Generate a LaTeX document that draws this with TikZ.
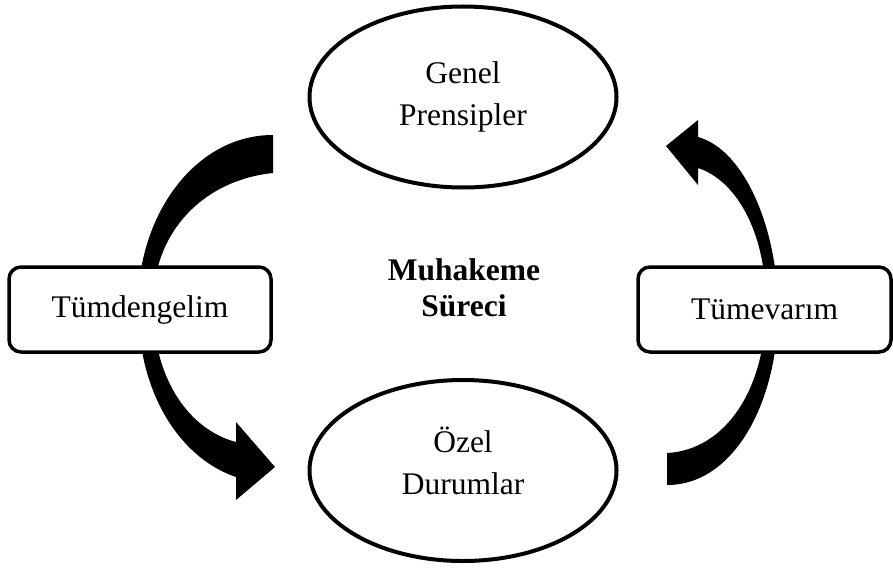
\documentclass[tikz,border=0pt]{standalone}
\usepackage{fontspec}
\setmainfont{Liberation Serif}
\usetikzlibrary{shapes.geometric, positioning}

\begin{document}
\begin{tikzpicture}[
    x=0.5pt, y=-0.5pt,
    stage/.style={draw, ellipse, line width=2pt, inner sep=0pt, minimum width=153.5pt, minimum height=90.5pt, align=center, font=\fontsize{15.75}{21}\selectfont},
    method/.style={draw, fill=white, line width=1.75pt, rounded corners=6pt, minimum height=42.5pt, inner sep=0pt, font=\fontsize{15.75}{19}\selectfont},
    bigarrow/.style={fill=black}
]
    \useasboundingbox (0,0) rectangle (893,567);

    % Curved arrows
    \fill[bigarrow] (273,135) .. controls (195,135) and (138,215) .. (138,305)
        .. controls (138,400) and (185,460) .. (236,477)
        -- (236,500) -- (275,467) -- (236,422) -- (236,442)
        .. controls (190,430) and (153,380) .. (153,305)
        .. controls (153,230) and (205,180) .. (273,173) -- cycle;
    \fill[bigarrow] (667,485) .. controls (735,485) and (778,400) .. (778,310)
        .. controls (778,230) and (745,150) .. (698,137)
        -- (698,120) -- (666,146) -- (698,185) -- (698,168)
        .. controls (735,180) and (766,230) .. (766,305)
        .. controls (766,390) and (725,450) .. (667,453) -- cycle;

    % Principles and cases
    \node[stage] (principles) at (463,97) {Genel\\Prensipler};
    \node[stage, text depth=10pt] (cases) at (463,470.5) {Özel\\Durumlar};

    % Methods
    \node[method, minimum width=131pt] (deduction) at (140,309.5) {Tümdengelim};
    \node[method, minimum width=126.5pt] (induction) at (764.5,309.5) {Tümevarım};

    % Center
    \node[font=\fontsize{15.75}{18}\selectfont\bfseries, align=center] (process) at (464,288) {Muhakeme\\Süreci};
\end{tikzpicture}
\end{document}
